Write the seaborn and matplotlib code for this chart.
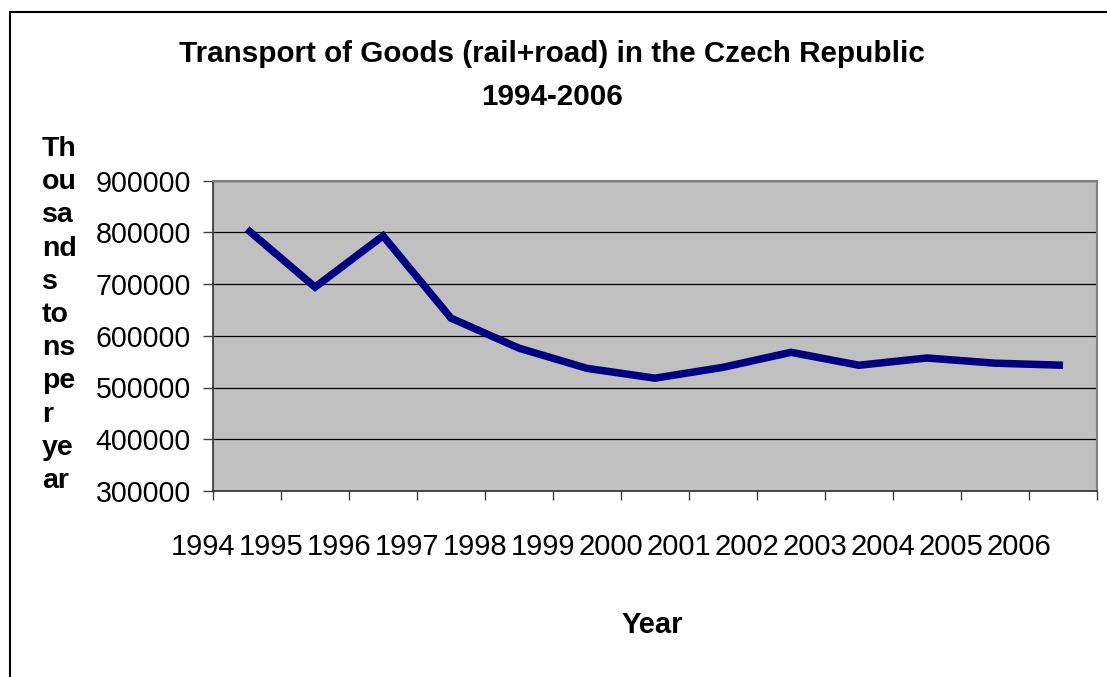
import numpy as np
import pandas as pd
import matplotlib
matplotlib.use("Agg")
import matplotlib.pyplot as plt
import matplotlib.transforms as mtransforms
import seaborn as sns

years = ["1994", "1995", "1996", "1997", "1998", "1999", "2000",
         "2001", "2002", "2003", "2004", "2005", "2006"]
tonnes = [806000, 694000, 793000, 634000, 576000, 537000, 518000,
          539000, 568000, 543000, 557000, 547000, 543000]
y_ticks = [300000, 400000, 500000, 600000, 700000, 800000, 900000]

df = pd.DataFrame({"pos": np.arange(len(years)), "tonnes": tonnes})

sns.set_style("white")
plt.rcParams["font.family"] = ["Liberation Sans", "DejaVu Sans"]
plt.rcParams["text.color"] = "black"
plt.rcParams["xtick.color"] = "black"
plt.rcParams["ytick.color"] = "black"

fig = plt.figure(figsize=(11.07, 6.77), dpi=100)
ax = fig.add_axes([213 / 1107, 1 - 491 / 677, 884 / 1107, (491 - 180.5) / 677])
ax.set_facecolor("#C0C0C0")

sns.lineplot(data=df, x="pos", y="tonnes", ax=ax, color="#000080",
             linewidth=5.4, solid_capstyle="butt", solid_joinstyle="miter")

ax.set_xlim(-0.5, len(years) - 0.5)
ax.set_ylim(300000, 900000)
ax.set_yticks(y_ticks)
ax.set_yticklabels([str(v) for v in y_ticks])
ax.yaxis.grid(True, color="black", linewidth=0.9)
ax.set_axisbelow(True)

# category boundaries carry the tick marks, labels sit on minor ticks
ax.set_xticks(np.arange(len(years) + 1) - 0.5)
ax.set_xticklabels([])
ax.set_xticks(np.arange(len(years)), minor=True)
ax.set_xticklabels(years, minor=True)
ax.tick_params(axis="x", which="major", direction="out", length=6.5, width=1,
               color="#404040", bottom=True)
ax.tick_params(axis="x", which="minor", length=0, pad=30, labelsize=21,
               labelcolor="black")
offset = mtransforms.ScaledTranslation(-0.44, 0, fig.dpi_scale_trans)
for lbl in ax.get_xticklabels(minor=True):
    lbl.set_transform(lbl.get_transform() + offset)
ax.tick_params(axis="y", direction="out", length=7, width=1, color="#404040",
               left=True, pad=9, labelsize=20.6, labelcolor="black")

for side in ["top", "right"]:
    ax.spines[side].set_color("#808080")
    ax.spines[side].set_linewidth(1.5)
for side in ["left", "bottom"]:
    ax.spines[side].set_color("#303030")
    ax.spines[side].set_linewidth(1.2)

ax.set_xlabel("")
ax.set_ylabel("")

fig.text(552 / 1107, 1 - 54 / 677, "Transport of Goods (rail+road) in the Czech Republic",
         ha="center", va="center", fontsize=21.3, fontweight="bold")
fig.text(552 / 1107, 1 - 97 / 677, "1994-2006",
         ha="center", va="center", fontsize=21.3, fontweight="bold")
fig.text(652 / 1107, 1 - 625 / 677, "Year",
         ha="center", va="center", fontsize=21, fontweight="bold")
fig.text(42 / 1107, 1 - 315 / 677, "Th\nou\nsa\nnd\ns\nto\nns\npe\nr\nye\nar",
         ha="left", va="center", fontsize=20.5, fontweight="bold", linespacing=1.36)

# outer chart border (cut off at right and bottom)
fig.patches.append(plt.Rectangle((10 / 1107, -0.05), 1.2, 1 - 12 / 677 + 0.05,
                                 transform=fig.transFigure, fill=False,
                                 edgecolor="black", linewidth=1.5))

fig.savefig("out.png", dpi=100)
